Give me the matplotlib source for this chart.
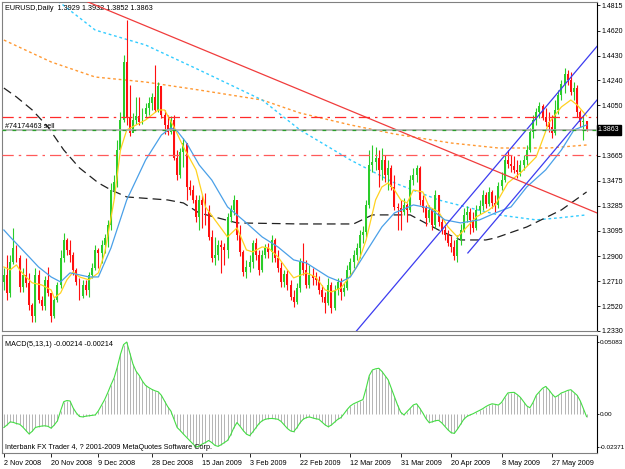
import numpy as np
import matplotlib
matplotlib.use("Agg")
import matplotlib.pyplot as plt

plt.rcParams['font.family'] = ['Liberation Sans', 'DejaVu Sans']
FS = 5.2
TFS = 5.0

# EURUSD daily bars, 2 Nov 2008 .. 3 Jun 2009 (open = previous close)
first_open = 1.2700
close = [1.2758, 1.2620, 1.2857, 1.2963, 1.2887, 1.2666, 1.2758, 1.2697, 1.2529, 1.2445,
         1.2758, 1.2567, 1.2521, 1.2720, 1.2620, 1.2445, 1.2567, 1.2681, 1.2887, 1.3024,
         1.2948, 1.2910, 1.2796, 1.2704, 1.2597, 1.2681, 1.2643, 1.2758, 1.2811, 1.2948,
         1.2925, 1.2986, 1.3039, 1.3138, 1.3405, 1.3466, 1.3710, 1.3939, 1.4381, 1.3954,
         1.3840, 1.3939, 1.3969, 1.3923, 1.3984, 1.4030, 1.4068, 1.4114, 1.4015, 1.4198,
         1.3977, 1.3901, 1.3847, 1.3939, 1.3649, 1.3520, 1.3695, 1.3763, 1.3428, 1.3405,
         1.3329, 1.3200, 1.3329, 1.3291, 1.3238, 1.3047, 1.2887, 1.2910, 1.2986, 1.2971,
         1.2948, 1.3200, 1.3253, 1.3329, 1.3062, 1.2933, 1.2780, 1.2818, 1.2857, 1.3001,
         1.2910, 1.2796, 1.2910, 1.2963, 1.2933, 1.3024, 1.2887, 1.2811, 1.2704, 1.2765,
         1.2681, 1.2590, 1.2552, 1.2658, 1.2857, 1.2796, 1.2681, 1.2758, 1.2735, 1.2720,
         1.2643, 1.2590, 1.2544, 1.2681, 1.2506, 1.2643, 1.2704, 1.2628, 1.2658, 1.2796,
         1.2857, 1.2910, 1.2963, 1.3062, 1.3085, 1.3291, 1.3596, 1.3619, 1.3649, 1.3558,
         1.3634, 1.3520, 1.3573, 1.3428, 1.3276, 1.3268, 1.3238, 1.3291, 1.3253, 1.3481,
         1.3520, 1.3573, 1.3329, 1.3268, 1.3192, 1.3253, 1.3138, 1.3367, 1.3161, 1.3100,
         1.3062, 1.3001, 1.2971, 1.2902, 1.3024, 1.3100, 1.3215, 1.3238, 1.3177, 1.3116,
         1.3253, 1.3283, 1.3367, 1.3299, 1.3390, 1.3306, 1.3291, 1.3436, 1.3481, 1.3634,
         1.3603, 1.3588, 1.3558, 1.3542, 1.3596, 1.3634, 1.3710, 1.3847, 1.3939, 1.4000,
         1.4045, 1.3961, 1.3923, 1.3885, 1.3840, 1.4015, 1.4129, 1.4213, 1.4289, 1.4243,
         1.4152, 1.4182, 1.4000, 1.3923, 1.3929, 1.3863]
high = [1.2811, 1.2910, 1.2910, 1.3116, 1.2986, 1.2910, 1.2811, 1.2887, 1.2773, 1.2544,
        1.2811, 1.2796, 1.2597, 1.2750, 1.2818, 1.2620, 1.2582, 1.2704, 1.2948, 1.3077,
        1.3039, 1.3024, 1.2933, 1.2811, 1.2735, 1.2720, 1.2720, 1.2780, 1.2849, 1.2986,
        1.2963, 1.3024, 1.3070, 1.3177, 1.3459, 1.3520, 1.3786, 1.4000, 1.4434, 1.4701,
        1.4205, 1.3992, 1.4114, 1.4114, 1.4030, 1.4068, 1.4114, 1.4144, 1.4358, 1.4228,
        1.4182, 1.4015, 1.3977, 1.3969, 1.3977, 1.3710, 1.3725, 1.3801, 1.3763, 1.3481,
        1.3443, 1.3367, 1.3367, 1.3367, 1.3382, 1.3291, 1.3100, 1.3047, 1.3024, 1.3024,
        1.3001, 1.3230, 1.3291, 1.3367, 1.3329, 1.3138, 1.2948, 1.2872, 1.2910, 1.3024,
        1.3039, 1.2948, 1.2948, 1.2994, 1.3001, 1.3062, 1.3039, 1.2948, 1.2857, 1.2796,
        1.2796, 1.2720, 1.2643, 1.2697, 1.2887, 1.3001, 1.2872, 1.2834, 1.2811, 1.2780,
        1.2750, 1.2681, 1.2628, 1.2735, 1.2704, 1.2681, 1.2735, 1.2735, 1.2697, 1.2834,
        1.2887, 1.2948, 1.3001, 1.3100, 1.3131, 1.3329, 1.3710, 1.3748, 1.3733, 1.3710,
        1.3725, 1.3672, 1.3634, 1.3596, 1.3520, 1.3306, 1.3329, 1.3344, 1.3306, 1.3520,
        1.3573, 1.3596, 1.3588, 1.3367, 1.3291, 1.3291, 1.3268, 1.3405, 1.3367, 1.3192,
        1.3131, 1.3100, 1.3055, 1.3024, 1.3062, 1.3146, 1.3268, 1.3283, 1.3268, 1.3238,
        1.3291, 1.3329, 1.3405, 1.3390, 1.3428, 1.3405, 1.3367, 1.3466, 1.3542, 1.3672,
        1.3710, 1.3672, 1.3664, 1.3634, 1.3634, 1.3672, 1.3748, 1.3878, 1.3977, 1.4030,
        1.4076, 1.4061, 1.4030, 1.4000, 1.3977, 1.4091, 1.4167, 1.4243, 1.4335, 1.4320,
        1.4304, 1.4228, 1.4205, 1.4015, 1.3977, 1.3932]
low = [1.2643, 1.2567, 1.2590, 1.2841, 1.2857, 1.2628, 1.2628, 1.2666, 1.2491, 1.2399,
       1.2399, 1.2544, 1.2491, 1.2491, 1.2597, 1.2399, 1.2430, 1.2552, 1.2658, 1.2857,
       1.2910, 1.2857, 1.2758, 1.2681, 1.2567, 1.2582, 1.2605, 1.2590, 1.2735, 1.2796,
       1.2811, 1.2849, 1.2925, 1.2971, 1.3100, 1.3344, 1.3428, 1.3710, 1.3923, 1.3901,
       1.3817, 1.3878, 1.3908, 1.3901, 1.3908, 1.3954, 1.3977, 1.4015, 1.4000, 1.4000,
       1.3954, 1.3832, 1.3824, 1.3832, 1.3634, 1.3481, 1.3497, 1.3580, 1.3329, 1.3367,
       1.3306, 1.3161, 1.3100, 1.3116, 1.3138, 1.3024, 1.2857, 1.2834, 1.2872, 1.2773,
       1.2834, 1.2887, 1.3161, 1.3215, 1.3024, 1.2902, 1.2750, 1.2735, 1.2780, 1.2811,
       1.2872, 1.2758, 1.2780, 1.2887, 1.2887, 1.2857, 1.2857, 1.2780, 1.2666, 1.2666,
       1.2643, 1.2567, 1.2514, 1.2537, 1.2628, 1.2758, 1.2658, 1.2658, 1.2681, 1.2681,
       1.2613, 1.2552, 1.2468, 1.2529, 1.2468, 1.2491, 1.2605, 1.2567, 1.2597, 1.2643,
       1.2758, 1.2811, 1.2872, 1.2887, 1.3001, 1.3047, 1.3268, 1.3542, 1.3558, 1.3428,
       1.3481, 1.3466, 1.3405, 1.3405, 1.3253, 1.3100, 1.3100, 1.3215, 1.3161, 1.3238,
       1.3443, 1.3466, 1.3291, 1.3238, 1.3131, 1.3161, 1.3100, 1.3116, 1.3131, 1.3070,
       1.3024, 1.2978, 1.2933, 1.2872, 1.2857, 1.2986, 1.3085, 1.3161, 1.3070, 1.3085,
       1.3100, 1.3222, 1.3253, 1.3268, 1.3283, 1.3268, 1.3238, 1.3268, 1.3405, 1.3466,
       1.3573, 1.3542, 1.3535, 1.3497, 1.3512, 1.3558, 1.3596, 1.3695, 1.3801, 1.3901,
       1.3954, 1.3939, 1.3893, 1.3847, 1.3801, 1.3824, 1.3984, 1.4091, 1.4144, 1.4205,
       1.4129, 1.4091, 1.3961, 1.3885, 1.3786, 1.3852]

# MACD(5,13,1) per bar
macd = [-0.0098, -0.0080, -0.0058, -0.0062, -0.0070, -0.0075, -0.0095, -0.0120, -0.0144, -0.0125,
        -0.0098, -0.0092, -0.0088, -0.0086, -0.0090, -0.0103, -0.0080, -0.0051, 0.0020, 0.0085,
        0.0093, 0.0090, 0.0040, 0.0005, -0.0020, -0.0023, -0.0018, -0.0015, -0.0012, -0.0009,
        0.0020, 0.0060, 0.0100, 0.0150, 0.0205, 0.0255, 0.0330, 0.0420, 0.0490, 0.0508,
        0.0430, 0.0350, 0.0300, 0.0270, 0.0230, 0.0200, 0.0185, 0.0172, 0.0162, 0.0155,
        0.0130, 0.0090, 0.0050, 0.0019, -0.0040, -0.0098, -0.0120, -0.0145, -0.0168, -0.0190,
        -0.0215, -0.0237, -0.0230, -0.0215, -0.0205, -0.0190, -0.0205, -0.0225, -0.0232, -0.0220,
        -0.0205, -0.0190, -0.0150, -0.0100, -0.0063, -0.0090, -0.0120, -0.0145, -0.0156, -0.0130,
        -0.0100, -0.0070, -0.0050, -0.0040, -0.0035, -0.0034, -0.0036, -0.0040, -0.0055, -0.0080,
        -0.0105, -0.0122, -0.0128, -0.0100, -0.0065, -0.0040, -0.0028, -0.0023, -0.0030, -0.0036,
        -0.0040, -0.0060, -0.0080, -0.0093, -0.0080, -0.0060, -0.0040, -0.0028, 0.0000, 0.0030,
        0.0055, 0.0070, 0.0080, 0.0090, 0.0100, 0.0180, 0.0270, 0.0310, 0.0318, 0.0322,
        0.0300, 0.0270, 0.0240, 0.0180, 0.0120, 0.0060, 0.0010, -0.0009, 0.0015, 0.0040,
        0.0062, 0.0070, 0.0040, 0.0005, -0.0035, -0.0063, -0.0058, -0.0050, -0.0047, -0.0065,
        -0.0090, -0.0115, -0.0135, -0.0140, -0.0110, -0.0075, -0.0040, -0.0020, -0.0009, 0.0000,
        0.0012, 0.0023, 0.0035, 0.0050, 0.0062, 0.0070, 0.0066, 0.0061, 0.0080, 0.0115,
        0.0147, 0.0150, 0.0151, 0.0135, 0.0115, 0.0085, 0.0055, 0.0042, 0.0080, 0.0130,
        0.0155, 0.0180, 0.0193, 0.0170, 0.0140, 0.0117, 0.0130, 0.0147, 0.0155, 0.0165,
        0.0170, 0.0150, 0.0130, 0.0090, 0.0035, -0.00214]

# moving averages, sampled at bar numbers
fast_bar = [0, 2, 4, 5, 7, 9, 12, 15, 16, 18, 20, 22, 24, 27, 30, 32, 35, 37, 39, 45, 49, 51,
            54, 57, 61, 64, 67, 71, 74, 77, 79, 82, 84, 87, 90, 92, 96, 99, 102, 104, 107, 109,
            112, 115, 118, 120, 122, 124, 126, 128, 130, 133, 135, 138, 141, 144, 147, 150,
            154, 156, 160, 164, 169, 173, 177, 180, 182, 185]
fast_ma = [1.2818, 1.2796, 1.2834, 1.2796, 1.2742, 1.2697, 1.2681, 1.2643, 1.2582, 1.2620,
           1.2720, 1.2780, 1.2742, 1.2720, 1.2773, 1.2925, 1.3329, 1.3710, 1.3863, 1.3939,
           1.4015, 1.4015, 1.3885, 1.3733, 1.3558, 1.3276, 1.3177, 1.3047, 1.3116, 1.2948,
           1.2933, 1.2971, 1.2963, 1.2895, 1.2796, 1.2735, 1.2773, 1.2742, 1.2643, 1.2628,
           1.2658, 1.2720, 1.2818, 1.3024, 1.3329, 1.3428, 1.3459, 1.3405, 1.3329, 1.3306,
           1.3405, 1.3390, 1.3276, 1.3238, 1.3123, 1.3047, 1.3123, 1.3200, 1.3253, 1.3291,
           1.3459, 1.3535, 1.3657, 1.3916, 1.4038, 1.4091, 1.4053, 1.3970]
mid_bar = [0, 2, 5, 8, 11, 15, 18, 21, 24, 27, 30, 34, 39, 45, 50, 53, 55, 58, 62, 66, 71, 77,
           82, 87, 92, 96, 103, 107, 110, 116, 120, 124, 130, 135, 140, 145, 151, 156, 161,
           166, 172, 177, 181, 185]
mid_ma = [1.3100, 1.3047, 1.2971, 1.2895, 1.2818, 1.2742, 1.2704, 1.2773, 1.2758, 1.2742,
          1.2742, 1.2963, 1.3329, 1.3634, 1.3824, 1.3878, 1.3855, 1.3763, 1.3596, 1.3481,
          1.3276, 1.3154, 1.3047, 1.2971, 1.2872, 1.2849, 1.2742, 1.2704, 1.2742, 1.2971,
          1.3123, 1.3230, 1.3291, 1.3268, 1.3177, 1.3154, 1.3177, 1.3230, 1.3276, 1.3428,
          1.3558, 1.3710, 1.3863, 1.3901]
slow_bar = [0, 4, 9, 14, 19, 24, 30, 34, 39, 52, 57, 62, 74, 94, 111, 117, 129, 138, 145,
            153, 156, 166, 177, 185]
slow_ma = [1.4182, 1.4114, 1.4015, 1.3885, 1.3710, 1.3573, 1.3459, 1.3405, 1.3352, 1.3329,
           1.3306, 1.3230, 1.3154, 1.3146, 1.3146, 1.3215, 1.3215, 1.3100, 1.3024, 1.3024,
           1.3039, 1.3123, 1.3253, 1.3390]
cyan_bar = [15, 18, 29, 45, 62, 82, 94, 110, 124, 138, 148, 157, 169, 176, 185]
cyan_ma = [1.4868, 1.4830, 1.4624, 1.4510, 1.4320, 1.4091, 1.3863, 1.3634, 1.3459, 1.3329,
           1.3268, 1.3215, 1.3177, 1.3192, 1.3215]
orange_bar = [0, 15, 29, 45, 62, 82, 94, 110, 124, 142, 157, 173, 185]
orange_ma = [1.4548, 1.4381, 1.4266, 1.4228, 1.4167, 1.4091, 1.3992, 1.3901, 1.3832, 1.3763,
             1.3725, 1.3725, 1.3748]

# drawn objects (bar, price)
red_trend = ([24.5, 188.3], [1.4860, 1.3230])
chan_lo = ([111.4, 188.3], [1.2315, 1.4500])
chan_hi = ([147.3, 188.3], [1.2925, 1.4091])
level_tp = 1.3960
level_sl = 1.3670
bid = 1.3863
order_price = 1.3860

price_ticks = [1.4815, 1.4620, 1.4430, 1.4240, 1.4050, 1.3665, 1.3475, 1.3285,
               1.3095, 1.2900, 1.2710, 1.2520, 1.2330]
date_bar = [0, 15, 30, 47, 63, 78, 94, 110, 126, 142, 158, 174]
date_lbl = ['2 Nov 2008', '20 Nov 2008', '9 Dec 2008', '28 Dec 2008', '15 Jan 2009',
            '3 Feb 2009', '22 Feb 2009', '12 Mar 2009', '31 Mar 2009', '20 Apr 2009',
            '8 May 2009', '27 May 2009']

UP = '#2ACC2A'
DN = '#FF1010'

W, H = 625, 469
fig = plt.figure(figsize=(6.25, 4.69), dpi=100)
fig.patch.set_facecolor('white')


def box(l, t, r, b):
    return [l / W, 1 - b / H, (r - l) / W, (b - t) / H]


ax = fig.add_axes(box(2, 2, 597, 331))
axm = fig.add_axes(box(2, 335, 597, 453), sharex=ax)

c = np.array(close)
o = np.r_[first_open, c[:-1]]
x = np.arange(len(c))
cols = np.where(c >= o, UP, DN)

# indicators behind candles
ax.plot(orange_bar, orange_ma, color='#FF9933', lw=1.0, ls=(0, (2, 2)), zorder=1)
ax.plot(cyan_bar, cyan_ma, color='#33CCFF', lw=1.0, ls=(0, (2, 2)), zorder=1)
ax.plot(slow_bar, slow_ma, color='#202020', lw=0.9, ls=(0, (7, 4)), zorder=1)

ax.vlines(x, low, high, colors=cols, lw=0.8, zorder=2)
body = np.where(np.abs(c - o) < 0.0003, 0.0003, c - o)
ax.bar(x, body, bottom=o, width=0.62, color=cols, linewidth=0, zorder=3)

ax.plot(fast_bar, fast_ma, color='#FFD21F', lw=0.9, zorder=4)
ax.plot(mid_bar, mid_ma, color='#4AA0E8', lw=0.9, zorder=4)

# trendlines and order levels
ax.plot(*red_trend, color='#F03C3C', lw=0.9, zorder=5)
ax.plot(*chan_lo, color='#3C3CF0', lw=0.9, zorder=5)
ax.plot(*chan_hi, color='#3C3CF0', lw=0.9, zorder=5)
ax.axhline(level_tp, color='#FF2A2A', lw=0.9, ls=(0, (9, 4, 2, 4)), zorder=5)
ax.axhline(level_sl, color='#FF5A5A', lw=0.9, ls=(0, (9, 4, 2, 4)), zorder=5)
ax.axhline(bid, color='#A8A8A8', lw=1.2, zorder=5)
ax.axhline(order_price, color='#2AA02A', lw=0.9, ls=(0, (3, 5)), zorder=6)
ax.text(0.3, order_price + 0.0004, '#74174463 sell', fontsize=FS, va='bottom', ha='left',
        zorder=7)

ax.set_xlim(-0.6, 188.3)
ax.set_ylim(1.2331, 1.4838)
ax.yaxis.tick_right()
ax.set_yticks(price_ticks)
ax.set_yticklabels(['%.4f' % v for v in price_ticks])
ax.tick_params(axis='y', direction='out', length=2, width=0.6, pad=1, labelsize=TFS)
ax.tick_params(axis='x', length=0, labelbottom=False)
ax.text(1.0015, bid, '%.4f' % bid, transform=ax.get_yaxis_transform(), color='white',
        fontsize=TFS, va='center', ha='left',
        bbox=dict(boxstyle='square,pad=0.2', fc='black', ec='black'))
ax.text(0.005, 0.992, 'EURUSD,Daily  1.3929 1.3932 1.3852 1.3863', transform=ax.transAxes,
        fontsize=FS, va='top', ha='left')

# MACD panel
m = np.array(macd)
axm.vlines(x, 0, m, colors='#B4B4B4', lw=0.7)
axm.plot(x, m, color='#44DD44', lw=0.8)
axm.set_ylim(-0.0279, 0.0558)
axm.yaxis.tick_right()
axm.set_yticks([0.05083, 0.0, -0.02371])
axm.set_yticklabels(['0.05083', '0.00', '-0.02371'])
axm.tick_params(axis='y', direction='out', length=1.5, width=0.6, pad=0.5, labelsize=4.6)
axm.set_xticks(date_bar)
axm.set_xticklabels(date_lbl, ha='left')
axm.tick_params(axis='x', direction='out', length=3, width=0.6, pad=2, labelsize=FS)
axm.text(0.005, 0.95, 'MACD(5,13,1) -0.00214 -0.00214', transform=axm.transAxes,
         fontsize=FS, va='top', ha='left')
axm.text(0.005, 0.015, 'Interbank FX Trader 4, ? 2001-2009 MetaQuotes Software Corp.',
         transform=axm.transAxes, fontsize=FS, va='bottom', ha='left')

for a in (ax, axm):
    for s in a.spines.values():
        s.set_color('#808080')
        s.set_linewidth(0.8)
    a.spines['right'].set_color('black')
    a.set_facecolor('white')

fig.savefig('out.png', dpi=100)
